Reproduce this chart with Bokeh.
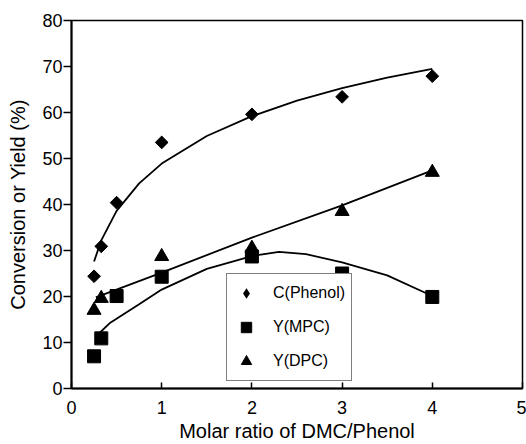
from bokeh.plotting import figure
from bokeh.models import Range1d, FixedTicker, Legend, LegendItem
from bokeh.embed import file_html
from bokeh.resources import INLINE

# ---- data ----
ratio = [0.25, 0.33, 0.5, 1, 2, 3, 4]
c_phenol = [24.4, 30.9, 40.4, 53.5, 59.6, 63.4, 67.9]
y_mpc = [7.0, 10.9, 20.1, 24.3, 28.7, 25.0, 19.9]
ratio_dpc = [0.25, 0.33, 1, 2, 3, 4]
y_dpc = [17.0, 19.6, 28.7, 30.5, 38.5, 47.0]

# trend curves
fit_phenol_x = [0.25, 0.33, 0.5, 0.75, 1, 1.5, 2, 2.5, 3, 3.5, 4]
fit_phenol_y = [27.6, 32.2, 38.6, 44.6, 48.9, 54.9, 59.2, 62.6, 65.3, 67.6, 69.5]
fit_mpc_x = [0.27, 0.43, 0.75, 1, 1.5, 2, 2.3, 2.6, 3, 3.5, 4]
fit_mpc_y = [11.3, 14.3, 18.3, 21.5, 26.0, 28.8, 29.7, 29.2, 27.4, 24.6, 20.1]
fit_dpc_x = [0.27, 1, 2, 3, 4]
fit_dpc_y = [19.8, 25.2, 32.8, 39.8, 47.4]

x_ticks = [0, 1, 2, 3, 4, 5]
y_ticks = [0, 10, 20, 30, 40, 50, 60, 70, 80]
labels = ["C(Phenol)", "Y(MPC)", "Y(DPC)"]

FONT = "Liberation Sans"

p = figure(width=526, height=444, output_backend="svg", toolbar_location=None,
           x_range=Range1d(0, 5), y_range=Range1d(0, 80),
           min_border_left=71, min_border_right=4, min_border_top=20, min_border_bottom=56)
p.background_fill_color = "white"
p.border_fill_color = "white"
p.outline_line_color = "black"
p.outline_line_width = 1.5
p.xgrid.visible = False
p.ygrid.visible = False

# axes
p.xaxis.ticker = FixedTicker(ticks=x_ticks)
p.yaxis.ticker = FixedTicker(ticks=y_ticks)
for ax in (p.xaxis, p.yaxis):
    ax.axis_line_width = 2
    ax.axis_line_color = "black"
    ax.major_tick_line_color = "black"
    ax.major_tick_line_width = 1.5
    ax.minor_tick_line_color = None
    ax.major_label_text_font = FONT
    ax.major_label_text_font_size = "18px"
    ax.major_label_text_color = "black"
    ax.axis_label_text_font = FONT
    ax.axis_label_text_font_size = "20px"
    ax.axis_label_text_font_style = "normal"
    ax.axis_label_text_color = "black"

p.xaxis.major_tick_in = 6
p.xaxis.major_tick_out = 0
p.xaxis.major_label_standoff = 12
p.xaxis.axis_label = "Molar ratio of DMC/Phenol"
p.xaxis.axis_label_standoff = 3

p.yaxis.major_tick_in = 0
p.yaxis.major_tick_out = 8
p.yaxis.major_label_standoff = 1
p.yaxis.axis_label = "Conversion or Yield (%)"
p.yaxis.axis_label_standoff = 10

# trend curves
p.line(fit_phenol_x, fit_phenol_y, line_color="black", line_width=1.8)
p.line(fit_mpc_x, fit_mpc_y, line_color="black", line_width=1.8)
p.line(fit_dpc_x, fit_dpc_y, line_color="black", line_width=1.8)

# markers
r_phenol = p.scatter(ratio, c_phenol, marker="square", angle=0.785398, size=9,
                     fill_color="black", line_color="black")
r_mpc = p.scatter(ratio, y_mpc, marker="square", size=13,
                  fill_color="black", line_color="black")
r_dpc = p.scatter(ratio_dpc, y_dpc, marker="triangle", size=14,
                  fill_color="black", line_color="black")
# legend key for the diamond: zero-size markers, so nothing shows in the plot area
r_phenol_key = p.scatter(ratio, c_phenol, marker="diamond", size=0,
                         fill_color="black", line_color=None)

legend = Legend(items=[LegendItem(label=labels[0], renderers=[r_phenol_key]),
                       LegendItem(label=labels[1], renderers=[r_mpc]),
                       LegendItem(label=labels[2], renderers=[r_dpc])],
                location=(155, 7), margin=0, padding=6, spacing=8,
                glyph_width=26, glyph_height=26, label_height=26, label_standoff=14,
                border_line_color="black", border_line_width=1,
                background_fill_color="white", background_fill_alpha=1.0,
                label_text_font=FONT, label_text_font_size="16px", label_text_color="black")
p.add_layout(legend, "center")

open("out.html", "w").write(file_html(p, INLINE))
